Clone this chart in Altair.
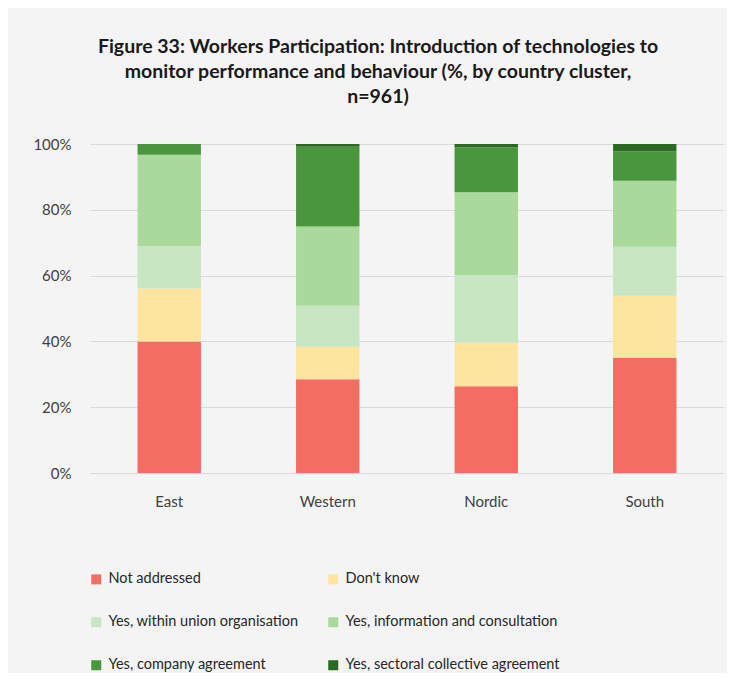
import altair as alt
import pandas as pd

clusters = ["East", "Western", "Nordic", "South"]
categories = [
    "Not addressed",
    "Don't know",
    "Yes, within union organisation",
    "Yes, information and consultation",
    "Yes, company agreement",
    "Yes, sectoral collective agreement",
]
colors = ["#f46d62", "#fde59f", "#c8e6c1", "#a9d99b", "#4a963d", "#2b6a21"]

not_addressed = [40.0, 28.5, 26.4, 35.0]
dont_know = [16.1, 9.9, 13.2, 18.9]
union_org = [12.9, 12.4, 20.6, 14.9]
info_consult = [27.7, 24.1, 25.1, 20.0]
company = [3.3, 24.3, 13.7, 8.9]
sectoral = [0.0, 0.8, 1.0, 2.3]

series = [not_addressed, dont_know, union_org, info_consult, company, sectoral]
rows = []
for ci, (cat, vals) in enumerate(zip(categories, series)):
    for cl, v in zip(clusters, vals):
        rows.append({"cluster": cl, "category": cat, "value": v, "idx": ci})
df = pd.DataFrame(rows)

FONT = "Lato"

chart = (
    alt.Chart(df)
    .mark_bar()
    .encode(
        x=alt.X(
            "cluster:N",
            sort=clusters,
            scale=alt.Scale(paddingInner=0.6, paddingOuter=0.3),
            axis=alt.Axis(
                title=None,
                labelAngle=0,
                domain=False,
                ticks=False,
                labelPadding=21,
                labelFontSize=15,
                labelColor="#404040",
                labelFont=FONT,
            ),
        ),
        y=alt.Y(
            "value:Q",
            stack="zero",
            scale=alt.Scale(domain=[0, 100]),
            axis=alt.Axis(
                title=None,
                values=[0, 20, 40, 60, 80, 100],
                labelExpr="datum.value + '%'",
                domain=False,
                ticks=False,
                labelPadding=19,
                labelFontSize=15,
                labelColor="#404040",
                labelFont=FONT,
                gridColor="#d9d9d9",
                gridWidth=1.2,
            ),
        ),
        color=alt.Color(
            "category:N",
            scale=alt.Scale(domain=categories, range=colors),
            legend=alt.Legend(
                title=None,
                orient="none",
                direction="horizontal",
                legendX=-1,
                legendY=428,
                columns=2,
                columnPadding=27,
                rowPadding=28,
                symbolType="square",
                symbolSize=100,
                symbolStrokeWidth=0,
                labelFontSize=14.5,
                labelFont=FONT,
                labelColor="#262626",
                labelLimit=400,
                labelOffset=5,
            ),
        ),
        order=alt.Order("idx:Q", sort="ascending"),
    )
    .properties(
        width=634,
        height=329,
        autosize=alt.AutoSizeParams(type="none"),
        padding={"left": 82, "top": 136, "right": 3, "bottom": 200},
        background="#f5f4f4",
        title=alt.TitleParams(
            text=[
                "Figure 33: Workers Participation: Introduction of technologies to",
                "monitor performance and behaviour (%, by country cluster,",
                "n=961)",
            ],
            font=FONT,
            fontSize=19.5,
            fontWeight="bold",
            color="#1a1a1a",
            anchor="middle",
            dx=-29,
            offset=30,
            lineHeight=25,
        ),
    )
    .configure_view(strokeWidth=0)
)

chart.save("out.html", embed_options={"renderer": "svg", "actions": False})
